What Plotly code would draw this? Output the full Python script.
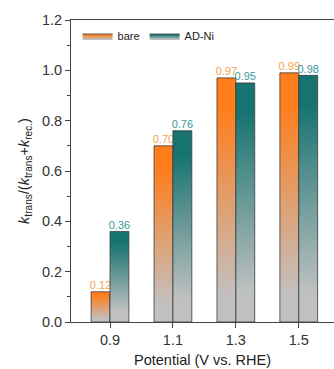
import plotly.graph_objects as go

categories = ["0.9", "1.1", "1.3", "1.5"]
bare = [0.12, 0.70, 0.97, 0.99]
adni = [0.36, 0.76, 0.95, 0.98]
series_names = ["bare", "AD-Ni"]
y_ticks = [0.0, 0.2, 0.4, 0.6, 0.8, 1.0, 1.2]

FONT = "Arial, Liberation Sans, sans-serif"
BAR_W = 0.30
top_colors = ["#FF7D1A", "#167370"]
bottom_colors = ["#C3BFBE", "#BFC1C1"]
label_colors = ["#F2A24E", "#3A9898"]

fig = go.Figure()
for s, (vals, name) in enumerate(zip([bare, adni], series_names)):
    for i, v in enumerate(vals):
        x0 = i - BAR_W if s == 0 else i
        x1 = x0 + BAR_W
        fig.add_trace(go.Scatter(
            x=[x0, x1, x1, x0, x0], y=[0, 0, v, v, 0],
            mode="lines", fill="toself",
            line=dict(color="#3a3a3a", width=0.8),
            fillgradient=dict(type="vertical", start=0, stop=v,
                              colorscale=[[0, bottom_colors[s]], [0.12, bottom_colors[s]],
                                          [0.88, top_colors[s]], [1, top_colors[s]]]),
            name=name, legendgroup=name, showlegend=(i == 0),
            hoverinfo="skip",
        ))
    fig.add_trace(go.Scatter(
        x=[i - BAR_W / 2 if s == 0 else i + BAR_W / 2 for i in range(len(vals))],
        y=vals, mode="text", text=[f"{v:.2f}" for v in vals],
        textposition="top center",
        textfont=dict(family=FONT, size=11, color=label_colors[s]),
        showlegend=False, hoverinfo="skip",
    ))

fig.update_layout(
    width=334, height=369,
    margin=dict(l=71, r=0, t=20, b=47),
    paper_bgcolor="white", plot_bgcolor="white",
    font=dict(family=FONT, size=14, color="#222"),
    legend=dict(orientation="h", x=0.025, y=0.995, xanchor="left", yanchor="top",
                font=dict(size=11, color="#222"), bgcolor="rgba(0,0,0,0)",
                itemwidth=30, tracegroupgap=0),
)
fig.update_xaxes(
    range=[-0.62, 3.56], tickvals=list(range(len(categories))), ticktext=categories,
    showgrid=False, zeroline=False, showline=True, linecolor="#444", linewidth=1,
    mirror=True, ticks="outside", ticklen=5, tickcolor="#444",
    tickfont=dict(size=14.5, color="#333"),
    title=dict(text="Potential (V vs. RHE)", font=dict(size=14.5), standoff=7),
)
fig.update_yaxes(
    range=[0, 1.2], tickvals=y_ticks, ticktext=[f"{t:.1f}" for t in y_ticks],
    showgrid=False, zeroline=False, showline=True, linecolor="#444", linewidth=1,
    ticks="outside", ticklen=5, tickcolor="#444", tickfont=dict(size=14.5, color="#333"),
    minor=dict(dtick=0.1, ticks="outside", ticklen=3, tickcolor="#444", showgrid=False),
    title=dict(text="<i>k</i><sub>trans</sub>/(<i>k</i><sub>trans</sub>+<i>k</i><sub>rec.</sub>)",
               font=dict(size=14.5), standoff=8),
)

fig.write_html("out.html")
